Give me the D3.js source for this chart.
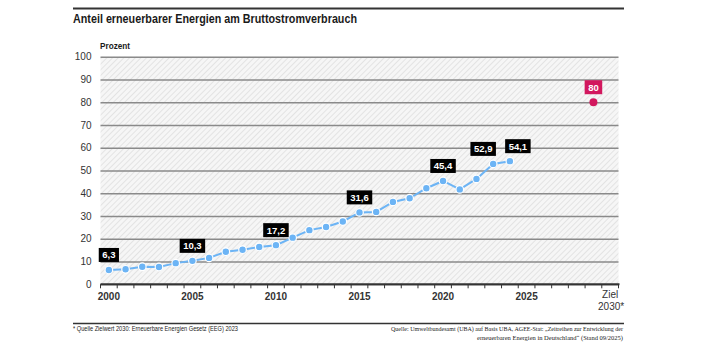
<!DOCTYPE html>
<html>
<head>
<meta charset="utf-8">
<script src="https://cdn.jsdelivr.net/npm/d3@7"></script>
<style>
  body { margin: 0; background: #fff; }
  svg { display: block; }
  text { font-family: "Liberation Sans", Arial, sans-serif; }
</style>
</head>
<body>
<script>
// data
var years = [2000, 2001, 2002, 2003, 2004, 2005, 2006, 2007, 2008, 2009, 2010, 2011, 2012,
             2013, 2014, 2015, 2016, 2017, 2018, 2019, 2020, 2021, 2022, 2023, 2024];
var share = [6.3, 6.6, 7.7, 7.6, 9.3, 10.3, 11.6, 14.3, 15.2, 16.4, 17.2, 20.5, 23.8,
             25.2, 27.6, 31.6, 31.8, 36.2, 37.8, 42.2, 45.4, 41.7, 46.3, 52.9, 54.1];
var labelYears = [2000, 2005, 2010, 2015, 2020, 2023, 2024];
var targetYear = 2029, targetValue = 80;
var xTickLabels = [2000, 2005, 2010, 2015, 2020, 2025];
var yTicks = [0, 10, 20, 30, 40, 50, 60, 70, 80, 90, 100];

var W = 707, H = 354;
var plotLeft = 100.5, plotRight = 618.5, plotTop = 56.7, plotBottom = 284.3;
// nudge the two last labels apart so they don't collide
var labelShift = { 2023: -10, 2024: 8 };

var allYears = d3.range(2000, 2031);
var x = d3.scaleBand().domain(allYears).range([plotLeft, plotRight]);
var y = d3.scaleLinear().domain([0, 100]).range([plotBottom, plotTop]);

var fmt = function (v) { return String(v).replace(".", ","); };

var svg = d3.select("body").append("svg")
    .attr("width", W)
    .attr("height", H);

// hatch pattern
var pat = svg.append("defs").append("pattern")
    .attr("id", "hatch")
    .attr("patternUnits", "userSpaceOnUse")
    .attr("width", 4).attr("height", 4)
    .attr("patternTransform", "rotate(45)");
pat.append("rect").attr("width", 4).attr("height", 4).attr("fill", "#f6f6f6");
pat.append("line").attr("x1", 0).attr("y1", 0).attr("x2", 0).attr("y2", 4)
    .attr("stroke", "#d4d4d4").attr("stroke-width", 1.1);

// frame lines
svg.append("line").attr("x1", 73).attr("x2", 624).attr("y1", 8.5).attr("y2", 8.5)
    .attr("stroke", "#333").attr("stroke-width", 2);
svg.append("line").attr("x1", 73).attr("x2", 624).attr("y1", 323.5).attr("y2", 323.5)
    .attr("stroke", "#333").attr("stroke-width", 1.5);

svg.append("text").attr("x", 73).attr("y", 23)
    .attr("font-size", 13.5).attr("font-weight", "bold").attr("fill", "#1a1a1a")
    .attr("textLength", 284).attr("lengthAdjust", "spacingAndGlyphs")
    .text("Anteil erneuerbarer Energien am Bruttostromverbrauch");

svg.append("text").attr("x", 100).attr("y", 49)
    .attr("font-size", 9.5).attr("font-weight", "bold").attr("fill", "#1a1a1a")
    .attr("textLength", 30).attr("lengthAdjust", "spacingAndGlyphs")
    .text("Prozent");

// plot background
svg.append("rect")
    .attr("x", plotLeft).attr("y", plotTop)
    .attr("width", plotRight - plotLeft).attr("height", plotBottom - plotTop)
    .attr("fill", "url(#hatch)");

// y grid + labels
var yAxis = d3.axisLeft(y).tickValues(yTicks).tickSize(-(plotRight - plotLeft)).tickPadding(9);
var gy = svg.append("g").attr("transform", "translate(" + plotLeft + ",0)").call(yAxis);
gy.select(".domain").remove();
gy.selectAll(".tick line").attr("stroke", "#8a8a8a").attr("stroke-width", 1.6);
gy.selectAll(".tick text").attr("font-size", 10).attr("fill", "#333")
    .attr("font-family", "'Liberation Sans', sans-serif");

// x axis
var gx = svg.append("g").attr("transform", "translate(0," + plotBottom + ")");
gx.append("line").attr("x1", plotLeft).attr("x2", plotRight + 1).attr("stroke", "#333").attr("stroke-width", 2);
var tickPos = allYears.map(function (d) { return x(d); }).concat([plotRight]);
gx.selectAll(".tk").data(tickPos).enter().append("line")
    .attr("x1", function (d) { return d; })
    .attr("x2", function (d) { return d; })
    .attr("y1", 0).attr("y2", 4)
    .attr("stroke", "#333").attr("stroke-width", 1);
gx.selectAll(".xl").data(xTickLabels).enter().append("text")
    .attr("x", function (d) { return x(d) + x.bandwidth() / 2; })
    .attr("y", 16)
    .attr("text-anchor", "middle")
    .attr("font-size", 10).attr("font-weight", "bold").attr("fill", "#333")
    .text(function (d) { return d; });
var zx = x(2030) + x.bandwidth() / 2;
var ziel = gx.append("text")
    .attr("y", 14)
    .attr("text-anchor", "middle")
    .attr("font-size", 10).attr("fill", "#333");
ziel.append("tspan").attr("x", zx).text("Ziel");
ziel.append("tspan").attr("x", zx + 1).attr("dy", 11.5).text("2030*");

// series
var pts = years.map(function (d, i) { return { year: d, value: share[i] }; });
var cx = function (d) { return x(d.year) + x.bandwidth() / 2; };

svg.append("path")
    .datum(pts)
    .attr("fill", "none")
    .attr("stroke", "#6cb4f5")
    .attr("stroke-width", 2)
    .attr("d", d3.line().x(cx).y(function (d) { return y(d.value); }));

svg.selectAll(".dot").data(pts).enter().append("circle")
    .attr("cx", cx)
    .attr("cy", function (d) { return y(d.value); })
    .attr("r", 3.8)
    .attr("fill", "#6cb4f5")
    .attr("stroke", "#fff")
    .attr("stroke-width", 1.2);

// value labels
function valueLabel(xc, yc, txt, color) {
    var g = svg.append("g");
    var t = g.append("text")
        .attr("x", xc).attr("y", yc - 11.5)
        .attr("text-anchor", "middle")
        .attr("font-size", 9.5).attr("font-weight", "bold").attr("fill", "#fff")
        .text(txt);
    var w = t.node().getComputedTextLength() + 7;
    g.insert("rect", "text")
        .attr("x", xc - w / 2).attr("y", yc - 22)
        .attr("width", w).attr("height", 14)
        .attr("fill", color);
}
pts.filter(function (d) { return labelYears.indexOf(d.year) >= 0; }).forEach(function (d) {
    valueLabel(cx(d) + (labelShift[d.year] || 0), y(d.value), fmt(d.value), "#000");
});

// target
var tx = x(targetYear) + x.bandwidth() / 2;
svg.append("circle").attr("cx", tx).attr("cy", y(targetValue)).attr("r", 4)
    .attr("fill", "#d2185e");
valueLabel(tx, y(targetValue), fmt(targetValue), "#d2185e");

// footnotes
svg.append("text").attr("x", 73).attr("y", 331)
    .attr("font-size", 6.6).attr("fill", "#222")
    .attr("textLength", 165).attr("lengthAdjust", "spacingAndGlyphs")
    .text("* Quelle Zielwert 2030: Erneuerbare Energien Gesetz (EEG) 2023");
var src = svg.append("g");
src.append("text").attr("x", 623).attr("y", 331).attr("text-anchor", "end")
    .attr("font-size", 6.8).attr("fill", "#222")
    .attr("textLength", 232).attr("lengthAdjust", "spacingAndGlyphs")
    .style("font-family", "'Liberation Serif', serif")
    .text("Quelle: Umweltbundesamt (UBA) auf Basis UBA, AGEE-Stat: \u201EZeitreihen zur Entwicklung der");
src.append("text").attr("x", 623).attr("y", 339.5).attr("text-anchor", "end")
    .attr("font-size", 6.8).attr("fill", "#222")
    .attr("textLength", 146).attr("lengthAdjust", "spacingAndGlyphs")
    .style("font-family", "'Liberation Serif', serif")
    .text("erneuerbaren Energien in Deutschland\u201C (Stand 09/2025)");
</script>
</body>
</html>
